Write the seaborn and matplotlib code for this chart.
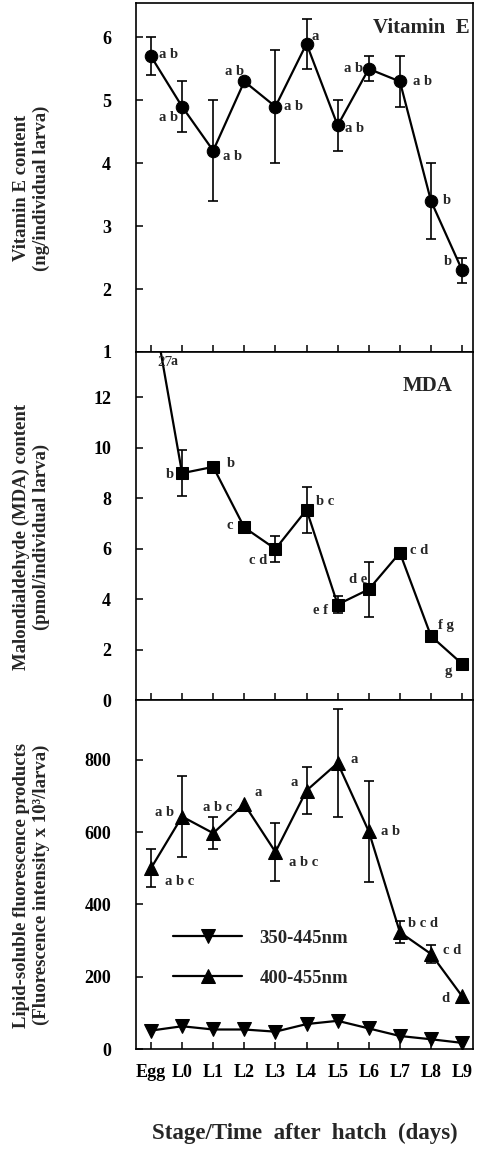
import numpy as np
import pandas as pd
import matplotlib
matplotlib.use('Agg')
import matplotlib.pyplot as plt
import seaborn as sns

stages = ['Egg', 'L0', 'L1', 'L2', 'L3', 'L4', 'L5', 'L6', 'L7', 'L8', 'L9']

# Vitamin E (ng/individual larva)
vite_mean = [5.7, 4.9, 4.2, 5.3, 4.9, 5.9, 4.6, 5.5, 5.3, 3.4, 2.3]
vite_sd = [0.3, 0.4, 0.8, np.nan, 0.9, 0.4, 0.4, 0.2, 0.4, 0.6, 0.2]
vite_letters = ['a b', 'a b', 'a b', 'a b', 'a b', 'a', 'a b', 'a b', 'a b', 'b', 'b']

# MDA (pmol/individual larva); egg value is 27, drawn off-scale (broken axis)
mda_egg_true = 27
mda_mean = [16, 9.0, 9.25, 6.85, 6.0, 7.55, 3.8, 4.4, 5.85, 2.55, 1.45]
mda_sd = [np.nan, 0.9, np.nan, np.nan, 0.5, 0.9, 0.35, 1.1, np.nan, np.nan, np.nan]
mda_letters = ['', 'b', 'b', 'c', 'c d', 'b c', 'e f', 'd e', 'c d', 'f g', 'g']

# lipid-soluble fluorescence products
fl350_mean = [51, 63, 54, 54, 48, 69, 78, 57, 36, 27, 17]
fl400_mean = [500, 643, 597, 677, 545, 715, 791, 602, 323, 263, 146]
fl400_sd = [53, 113, 45, np.nan, 81, 66, 150, 140, 31, 26, np.nan]
fl400_letters = ['a b c', 'a b', 'a b c', 'a', 'a b c', 'a', 'a', 'a b', 'b c d', 'c d', 'd']

# letter placement (pixel offsets from the point, alignment)
vite_offsets = [(8, 2, 'left'), (-4, -11, 'right'), (10, -6, 'left'), (0, 10, 'right'),
                (9, 0, 'left'), (5, 7, 'left'), (7, -3, 'left'), (-6, 0, 'right'),
                (13, 0, 'left'), (12, 0, 'left'), (-10, 9, 'right')]
mda_offsets = [(0, 0, 'left'), (-8, -1, 'right'), (14, 3, 'left'), (-11, 2, 'right'),
               (-8, -12, 'right'), (9, 8, 'left'), (-10, -6, 'right'), (-2, 10, 'right'),
               (10, 2, 'left'), (7, 11, 'left'), (-10, -8, 'right')]
fl_offsets = [(14, -13, 'left'), (-8, 4, 'right'), (4, 26, 'center'), (10, 12, 'left'),
              (14, -11, 'left'), (-9, 8, 'right'), (13, 4, 'left'), (12, 0, 'left'),
              (8, 9, 'left'), (12, 3, 'left'), (-13, -2, 'right')]

sns.set_style('ticks')
plt.rcParams['font.family'] = ['Liberation Serif', 'DejaVu Serif']
plt.rcParams['font.weight'] = 'bold'
plt.rcParams['axes.labelweight'] = 'bold'
plt.rcParams['axes.linewidth'] = 1.2

x = np.arange(len(stages))
df = pd.DataFrame({'x': x, 'vite': vite_mean, 'mda': mda_mean,
                   'fl350': fl350_mean, 'fl400': fl400_mean})

fig, axes = plt.subplots(3, 1, figsize=(4.79, 11.51), dpi=100, sharex=True)
fig.subplots_adjust(left=0.284, right=0.9875, top=0.997, bottom=0.0886, hspace=0)
ax1, ax2, ax3 = axes

line_kw = dict(color='black', linewidth=1.6, markeredgecolor='black', markerfacecolor='black')
err_kw = dict(fmt='none', ecolor='black', elinewidth=1.2, capsize=3.5, capthick=1.2, zorder=1)


def put_letters(ax, values, letters, offsets):
    for xi, v, t, (dx, dy, ha) in zip(x, values, letters, offsets):
        if t:
            ax.annotate(t, xy=(xi, v), xytext=(dx, dy), textcoords='offset pixels',
                        ha=ha, va='center', fontsize=10.5, fontweight='bold')


# Vitamin E
ax1.errorbar(x, vite_mean, yerr=vite_sd, **err_kw)
sns.lineplot(data=df, x='x', y='vite', marker='o', markersize=9, ax=ax1, **line_kw)
put_letters(ax1, vite_mean, vite_letters, vite_offsets)
ax1.set_ylim(1, 6.54)
ax1.set_yticks([1, 2, 3, 4, 5, 6])
ax1.text(0.991, 0.931, 'Vitamin  E', transform=ax1.transAxes, ha='right', va='center',
         fontsize=15, fontweight='bold')
ax1.set_ylabel('Vitamin E content\n(ng/individual larva)', fontsize=13.5)

# MDA
ax2.errorbar(x, mda_mean, yerr=mda_sd, **err_kw)
sns.lineplot(data=df, x='x', y='mda', marker='s', markersize=8.5, ax=ax2, **line_kw)
put_letters(ax2, mda_mean, mda_letters, mda_offsets)
ax2.set_ylim(0, 13.8)
ax2.set_yticks([0, 2, 4, 6, 8, 10, 12])
ax2.annotate(str(mda_egg_true), xy=(0, 1), xycoords=('data', 'axes fraction'),
             xytext=(6, -4), textcoords='offset pixels', va='top', ha='left',
             fontsize=11, fontweight='normal')
ax2.annotate('a', xy=(0, 1), xycoords=('data', 'axes fraction'),
             xytext=(20, -3), textcoords='offset pixels', va='top', ha='left',
             fontsize=10, fontweight='bold')
ax2.text(0.938, 0.903, 'MDA', transform=ax2.transAxes, ha='right', va='center',
         fontsize=15, fontweight='bold')
ax2.set_ylabel('Malondialdehyde (MDA) content\n(pmol/individual larva)', fontsize=13.5)

# fluorescence
sns.lineplot(data=df, x='x', y='fl350', marker='v', markersize=10, ax=ax3,
             label='350-445nm', **line_kw)
ax3.errorbar(x, fl400_mean, yerr=fl400_sd, **err_kw)
sns.lineplot(data=df, x='x', y='fl400', marker='^', markersize=10, ax=ax3,
             label='400-455nm', **line_kw)
put_letters(ax3, fl400_mean, fl400_letters, fl_offsets)
ax3.set_ylim(0, 964)
ax3.set_yticks([0, 200, 400, 600, 800])
ax3.legend(loc='upper left', bbox_to_anchor=(0.11, 0.342), frameon=False,
           handlelength=3.7, handletextpad=0.9, labelspacing=1.2,
           borderpad=0, borderaxespad=0, prop={'size': 13.5, 'weight': 'bold'})
ax3.set_ylabel('Lipid-soluble fluorescence products\n(Fluorescence intensity x 10³/larva)',
               fontsize=13.5)

ax3.set_xlim(-0.48, 10.35)
ax3.set_xticks(x)
ax3.set_xticklabels(stages)
ax3.set_xlabel('Stage/Time  after  hatch  (days)', fontsize=16.5, labelpad=30)

for ax in axes:
    for s in ax.spines.values():
        s.set_visible(True)
        s.set_color('black')
    ax.tick_params(direction='in', length=5, width=1.1, top=False, right=False,
                   labelsize=13, colors='black')
    ax.tick_params(axis='y', pad=18)
    ax.tick_params(axis='x', pad=11)
    ax.yaxis.set_label_coords(-0.255, 0.47)

fig.savefig('out.png', dpi=100)
